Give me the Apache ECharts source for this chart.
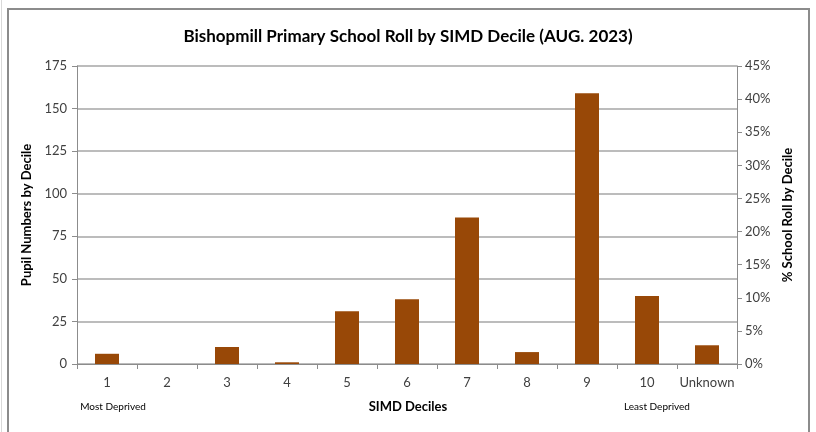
<!DOCTYPE html>
<html><head><meta charset="utf-8">
<script src="https://cdn.jsdelivr.net/npm/echarts@6/dist/echarts.min.js"></script>
<style>html,body{margin:0;padding:0;background:#fff}#c{width:816px;height:432px}</style>
</head><body><div id="c"></div>
<script>
var categories = ['1','2','3','4','5','6','7','8','9','10','Unknown'];
var pupils = [6, 0, 10, 1, 31, 38, 86, 7, 159, 40, 11];
var leftTicks = {min: 0, max: 175, interval: 25};
var rightTicks = {min: 0, max: 0.45, interval: 0.05};
var titleText = 'Bishopmill Primary School Roll by SIMD Decile (AUG. 2023)';

var FONT = 'Lato, "Open Sans", sans-serif';
var chart = echarts.init(document.getElementById('c'), null, {renderer: 'canvas'});
chart.setOption({
  animation: false,
  backgroundColor: '#fff',
  title: {text: titleText, left: 'center', top: 23,
    textStyle: {fontFamily: FONT, fontSize: 17, fontWeight: 'bold', color: '#000'}},
  grid: {left: 77, right: 79, top: 66, bottom: 68},
  xAxis: {type: 'category', data: categories,
    axisLine: {lineStyle: {color: '#8c8c8c', width: 1}},
    axisTick: {show: true, alignWithLabel: false, interval: 0, length: 5, lineStyle: {color: '#8c8c8c'}},
    axisLabel: {fontFamily: FONT, fontSize: 13, color: '#404040', margin: 12, interval: 0}},
  yAxis: [
    {type: 'value', min: leftTicks.min, max: leftTicks.max, interval: leftTicks.interval,
     name: 'Pupil Numbers by Decile', nameLocation: 'middle', nameGap: 34, nameRotate: 90,
     nameTextStyle: {fontFamily: FONT, fontSize: 13, fontWeight: 'bold', color: '#000'},
     axisLine: {show: true, lineStyle: {color: '#8c8c8c'}},
     axisTick: {show: true, length: 5, lineStyle: {color: '#8c8c8c'}},
     axisLabel: {fontFamily: FONT, fontSize: 13, color: '#404040', margin: 10},
     splitLine: {lineStyle: {color: '#a6a6a6', width: 1.5}}},
    {type: 'value', min: rightTicks.min, max: rightTicks.max, interval: rightTicks.interval,
     position: 'right',
     name: '% School Roll by Decile', nameLocation: 'middle', nameGap: 44, nameRotate: 90,
     nameTextStyle: {fontFamily: FONT, fontSize: 13, fontWeight: 'bold', color: '#000'},
     axisLine: {show: true, lineStyle: {color: '#8c8c8c'}},
     axisTick: {show: true, length: 5, lineStyle: {color: '#8c8c8c'}},
     axisLabel: {fontFamily: FONT, fontSize: 13, color: '#404040', margin: 8,
       formatter: function (v) { return Math.round(v * 100) + '%'; }},
     splitLine: {show: false}}
  ],
  series: [{type: 'bar', data: pupils, barWidth: '40%', yAxisIndex: 0,
    itemStyle: {color: '#984807', borderWidth: 0}}],
  graphic: [
    {type: 'rect', shape: {x: 8, y: 9, width: 801, height: 440},
     style: {fill: 'none', stroke: '#8c8c8c', lineWidth: 2}, silent: true},
    {type: 'line', shape: {x1: 1.5, y1: 0, x2: 1.5, y2: 432},
     style: {stroke: '#d9d9d9', lineWidth: 1}, silent: true},
    {type: 'text', x: 113, y: 407, style: {text: 'Most Deprived', fontFamily: FONT, fontSize: 10,
      fill: '#000', textAlign: 'center', textVerticalAlign: 'middle'}},
    {type: 'text', x: 408, y: 407, style: {text: 'SIMD Deciles', fontFamily: FONT, fontSize: 13,
      fontWeight: 'bold', fill: '#000', textAlign: 'center', textVerticalAlign: 'middle'}},
    {type: 'text', x: 657, y: 407, style: {text: 'Least Deprived', fontFamily: FONT, fontSize: 10,
      fill: '#000', textAlign: 'center', textVerticalAlign: 'middle'}}
  ]
});
</script></body></html>
